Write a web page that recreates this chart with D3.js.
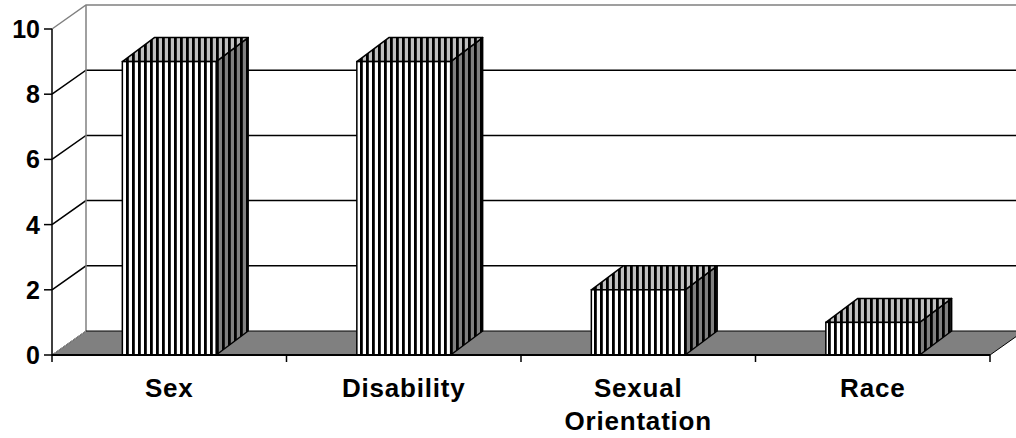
<!DOCTYPE html>
<head>
<meta charset="utf-8">
<style>
body { margin: 0; padding: 0; background: #fff; }
svg text { font-family: "Liberation Sans", Arial, sans-serif; font-weight: bold; fill: #000; }
</style>
</head>
<body>
<svg id="viz" width="1016" height="438"></svg>
<script src="https://d3js.org/d3.v7.min.js"></script>
<script>
var categories = ['Sex', 'Disability', 'Sexual Orientation', 'Race']
var labelLines = [['Sex'], ['Disability'], ['Sexual', 'Orientation'], ['Race']]
var values = [9, 9, 2, 1]
var yTicks = [0, 2, 4, 6, 8, 10]

var svg = d3.select('#viz')
var x0 = 52, x1 = 990, yBase = 355, yTop = 29
var wallDx = 34, wallDy = -24
var barDx = 32, barDy = -24

var x = d3.scaleBand().domain(categories).range([x0, x1]).padding(0)
var y = d3.scaleLinear().domain([0, 10]).range([yBase, yTop])

// stripe patterns
var defs = svg.append('defs')
function stripes(id, bg) {
  var p = defs.append('pattern').attr('id', id).attr('patternUnits', 'userSpaceOnUse')
    .attr('width', 6).attr('height', 6)
  p.append('rect').attr('width', 6).attr('height', 6).attr('fill', bg)
  p.append('rect').attr('x', 0).attr('width', 2.8).attr('height', 6).attr('fill', '#000')
}
stripes('front', '#fff')
stripes('top', '#c0c0c0')
stripes('side', '#808080')

function pts(a) { return a.map(function(p) { return p.join(',') }).join(' ') }

// gridlines on left wall + back wall
var grid = svg.append('g')
yTicks.filter(function(t) { return t > 0 && t < 10 }).forEach(function(t) {
  grid.append('polyline')
    .attr('points', pts([[x0, y(t)], [x0 + wallDx, y(t) + wallDy], [1030, y(t) + wallDy]]))
    .attr('fill', 'none').attr('stroke', '#000').attr('stroke-width', 1.5)
})
// wall outlines
grid.append('polyline')
  .attr('points', pts([[x0, y(10)], [x0 + wallDx, y(10) + wallDy], [1030, y(10) + wallDy]]))
  .attr('fill', 'none').attr('stroke', '#808080').attr('stroke-width', 1.5)
grid.append('line')
  .attr('x1', x0 + wallDx).attr('y1', y(10) + wallDy)
  .attr('x2', x0 + wallDx).attr('y2', y(0) + wallDy)
  .attr('stroke', '#808080').attr('stroke-width', 1.5)

// floor
svg.append('polygon')
  .attr('points', pts([[x0, yBase], [x1, yBase], [x1 + wallDx, yBase + wallDy], [x0 + wallDx, yBase + wallDy]]))
  .attr('fill', '#808080').attr('stroke', '#000').attr('stroke-width', 1)
svg.append('line')
  .attr('x1', x0).attr('y1', yBase).attr('x2', x0 + wallDx).attr('y2', yBase + wallDy)
  .attr('stroke', '#a0a0a0').attr('stroke-width', 1)

// bars
var bw = x.bandwidth() * 0.4
var bars = svg.append('g').selectAll('g').data(categories).enter().append('g')
bars.each(function(c, i) {
  var g = d3.select(this)
  var l = x(c) + (x.bandwidth() - bw) / 2, r = l + bw
  var t = y(values[i]), b = y(0)
  g.append('polygon').attr('points', pts([[r, b], [r + barDx, b + barDy], [r + barDx, t + barDy], [r, t]]))
    .attr('fill', 'url(#side)').attr('stroke', '#000').attr('stroke-width', 1.5).attr('stroke-linejoin', 'round')
  g.append('polygon').attr('points', pts([[l, t], [l + barDx, t + barDy], [r + barDx, t + barDy], [r, t]]))
    .attr('fill', 'url(#top)').attr('stroke', '#000').attr('stroke-width', 1.5).attr('stroke-linejoin', 'round')
  g.append('rect').attr('x', l).attr('y', t).attr('width', bw).attr('height', b - t)
    .attr('fill', 'url(#front)').attr('stroke', '#000').attr('stroke-width', 1.5)
})

// y axis
var yAxis = svg.append('g')
yAxis.append('line').attr('x1', x0).attr('x2', x0).attr('y1', y(10)).attr('y2', y(0))
  .attr('stroke', '#000').attr('stroke-width', 1.5)
yTicks.forEach(function(t) {
  yAxis.append('line').attr('x1', x0 - 8).attr('x2', x0).attr('y1', y(t)).attr('y2', y(t))
    .attr('stroke', '#000').attr('stroke-width', 1.5)
  yAxis.append('text').attr('x', x0 - 12).attr('y', y(t)).attr('dy', '0.36em')
    .attr('text-anchor', 'end').attr('font-size', 25).text(t)
})

// x axis
var xAxis = svg.append('g')
xAxis.append('line').attr('x1', x0).attr('x2', x1).attr('y1', yBase).attr('y2', yBase)
  .attr('stroke', '#000').attr('stroke-width', 2)
var edges = categories.map(function(c) { return x(c) }).concat([x1])
edges.forEach(function(e) {
  xAxis.append('line').attr('x1', e).attr('x2', e).attr('y1', yBase).attr('y2', yBase + 7)
    .attr('stroke', '#000').attr('stroke-width', 1.5)
})
categories.forEach(function(c, i) {
  var cx = x(c) + x.bandwidth() / 2
  var tx = xAxis.append('text').attr('x', cx).attr('y', 397)
    .attr('text-anchor', 'middle').attr('font-size', 26).attr('letter-spacing', 0.8)
  labelLines[i].forEach(function(s, j) {
    tx.append('tspan').attr('x', cx).attr('dy', j === 0 ? 0 : 33).text(s)
  })
})
</script>
</body>
</html>
